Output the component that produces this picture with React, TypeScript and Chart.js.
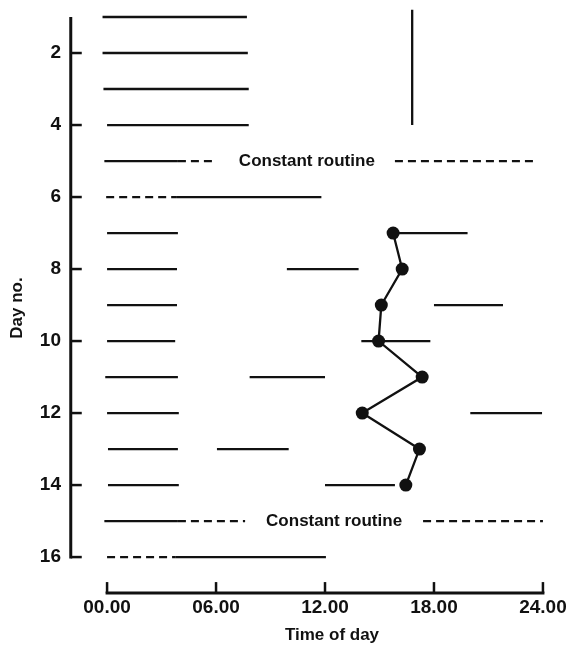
import React, { useEffect, useRef } from 'react';
import { Chart, registerables } from 'chart.js';

Chart.register(...registerables);

// ---- data ----
const DAY_TICKS = [2, 4, 6, 8, 10, 12, 14, 16];
const HOUR_TICKS = [0, 6, 12, 18, 24];
const HOUR_LABELS = ['00.00', '06.00', '12.00', '18.00', '24.00'];

// solid sleep episodes: [day, start hour, end hour]
const SOLID_SEGMENTS: [number, number, number][] = [
  [1, -0.25, 7.7],
  [2, -0.25, 7.75],
  [3, -0.2, 7.8],
  [4, 0, 7.8],
  [5, -0.15, 3.9],
  [6, 3.8, 11.8],
  [7, 0, 3.9],
  [7, 15.75, 19.85],
  [8, 0, 3.85],
  [8, 9.9, 13.85],
  [9, 0, 3.85],
  [9, 18.0, 21.8],
  [10, 0, 3.75],
  [10, 14.0, 17.8],
  [11, -0.1, 3.9],
  [11, 7.85, 12.0],
  [12, 0, 3.95],
  [12, 20.0, 23.95],
  [13, 0.05, 3.9],
  [13, 6.05, 10.0],
  [14, 0.05, 3.95],
  [14, 12.0, 15.85],
  [15, -0.15, 3.9],
  [16, 3.75, 12.05],
];

// constant routine (dashed) periods: [day, start hour, end hour]
const DASHED_SEGMENTS: [number, number, number][] = [
  [5, 3.9, 5.9],
  [5, 15.85, 23.6],
  [6, -0.05, 3.8],
  [15, 3.9, 7.6],
  [15, 17.4, 24.0],
  [16, 0, 3.75],
];

// vertical marker: [hour, from day, to day]
const VERTICAL_MARK: [number, number, number] = [16.8, 0.8, 4.0];

// circadian phase markers
const PHASE_DAYS = [7, 8, 9, 10, 11, 12, 13, 14];
const PHASE_HOURS = [15.75, 16.25, 15.1, 14.95, 17.35, 14.05, 17.2, 16.45];

// annotation labels: [day, centre hour, text]
const ROUTINE_LABELS: [number, number, string][] = [
  [5, 11.0, 'Constant routine'],
  [15, 12.5, 'Constant routine'],
];

// axis extents (data units)
const Y_AXIS_HOUR = -2;
const Y_AXIS_FROM = 1;
const Y_AXIS_TO = 16;
const X_AXIS_DAY = 17;

const FONT = '"Liberation Sans", Arial, Helvetica, sans-serif';
const INK = '#111';

const axesPlugin = {
  id: 'customAxes',
  afterDatasetsDraw(chart: any) {
    const { ctx, scales } = chart;
    const xs = scales.x;
    const ys = scales.y;
    const px = (v: number) => xs.getPixelForValue(v);
    const py = (v: number) => ys.getPixelForValue(v);
    ctx.save();
    ctx.strokeStyle = INK;
    ctx.lineCap = 'butt';
    ctx.lineWidth = 3;

    // y axis
    const ax = px(Y_AXIS_HOUR);
    ctx.beginPath();
    ctx.moveTo(ax, py(Y_AXIS_FROM));
    ctx.lineTo(ax, py(Y_AXIS_TO) + 1.5);
    ctx.stroke();
    ctx.lineWidth = 2.5;
    DAY_TICKS.forEach((d) => {
      ctx.beginPath();
      ctx.moveTo(ax, py(d));
      ctx.lineTo(ax + 11, py(d));
      ctx.stroke();
    });

    // x axis
    const ay = py(X_AXIS_DAY);
    ctx.lineWidth = 3;
    ctx.beginPath();
    ctx.moveTo(px(HOUR_TICKS[0]) - 1.5, ay);
    ctx.lineTo(px(HOUR_TICKS[HOUR_TICKS.length - 1]) + 1.5, ay);
    ctx.stroke();
    ctx.lineWidth = 2.5;
    HOUR_TICKS.forEach((h) => {
      ctx.beginPath();
      ctx.moveTo(px(h), ay);
      ctx.lineTo(px(h), ay - 11);
      ctx.stroke();
    });

    // annotation text
    ctx.fillStyle = INK;
    ctx.font = `bold 17px ${FONT}`;
    ctx.textAlign = 'center';
    ctx.textBaseline = 'middle';
    ROUTINE_LABELS.forEach(([d, h, t]) => {
      ctx.fillText(t, px(h), py(d));
    });
    ctx.restore();
  },
};

export default function App() {
  const ref = useRef<HTMLCanvasElement | null>(null);

  useEffect(() => {
    if (!ref.current) return;
    Chart.defaults.font.family = FONT;
    Chart.defaults.color = INK;

    const segDataset = (s: [number, number, number], dashed: boolean) => ({
      data: [
        { x: s[1], y: s[0] },
        { x: s[2], y: s[0] },
      ],
      borderColor: INK,
      borderWidth: 2.3,
      borderDash: dashed ? [8, 5] : [],
      pointRadius: 0,
      fill: false,
      tension: 0,
    });

    const datasets: any[] = [
      {
        data: PHASE_DAYS.map((d, i) => ({ x: PHASE_HOURS[i], y: d })),
        borderColor: INK,
        borderWidth: 2.3,
        pointRadius: 6.5,
        pointBackgroundColor: INK,
        pointBorderColor: INK,
        pointBorderWidth: 0,
        fill: false,
        tension: 0,
      },
      ...SOLID_SEGMENTS.map((s) => segDataset(s, false)),
      ...DASHED_SEGMENTS.map((s) => segDataset(s, true)),
      {
        data: [
          { x: VERTICAL_MARK[0], y: VERTICAL_MARK[1] },
          { x: VERTICAL_MARK[0], y: VERTICAL_MARK[2] },
        ],
        borderColor: INK,
        borderWidth: 2.3,
        pointRadius: 0,
        fill: false,
      },
    ];

    const chart = new Chart(ref.current, {
      type: 'line',
      data: { datasets },
      options: {
        animation: false,
        responsive: true,
        maintainAspectRatio: false,
        events: [],
        layout: { autoPadding: false, padding: { top: 6, right: 0, bottom: 0, left: 0 } },
        plugins: {
          legend: { display: false },
          tooltip: { enabled: false },
        },
        scales: {
          x: {
            type: 'linear',
            min: -0.72,
            max: 25.49,
            afterBuildTicks: (s: any) => {
              s.ticks = HOUR_TICKS.map((v) => ({ value: v }));
            },
            afterFit: (s: any) => {
              s.height = 41;
              s.paddingLeft = 0;
              s.paddingRight = 0;
            },
            grid: { display: false, drawTicks: false },
            border: { display: false },
            ticks: {
              mirror: true,
              padding: -9,
              color: INK,
              autoSkip: false,
              maxRotation: 0,
              font: { size: 19, weight: 'bold' },
              callback: (_v: any, i: number) => HOUR_LABELS[i],
            },
            title: {
              display: true,
              text: 'Time of day',
              color: INK,
              font: { size: 17, weight: 'bold' },
              padding: { top: 0, bottom: 5 },
            },
          },
          y: {
            type: 'linear',
            reverse: true,
            min: 0.694,
            max: 17.47,
            afterBuildTicks: (s: any) => {
              s.ticks = DAY_TICKS.map((v) => ({ value: v }));
            },
            afterFit: (s: any) => {
              s.width = 94;
              s.paddingTop = 0;
              s.paddingBottom = 0;
            },
            grid: { display: false, drawTicks: false },
            border: { display: false },
            ticks: {
              padding: 33,
              color: INK,
              font: { size: 19, weight: 'bold' },
              callback: (v: any) => String(v),
            },
            title: {
              display: true,
              text: 'Day no.',
              color: INK,
              font: { size: 17, weight: 'bold' },
              padding: { top: 7, bottom: 0 },
            },
          },
        },
      } as any,
      plugins: [axesPlugin],
    });
    return () => chart.destroy();
  }, []);

  return (
    <div style={{ position: 'absolute', left: 0, top: 0, width: 570, height: 651, background: '#fff' }}>
      <canvas ref={ref} />
    </div>
  );
}
